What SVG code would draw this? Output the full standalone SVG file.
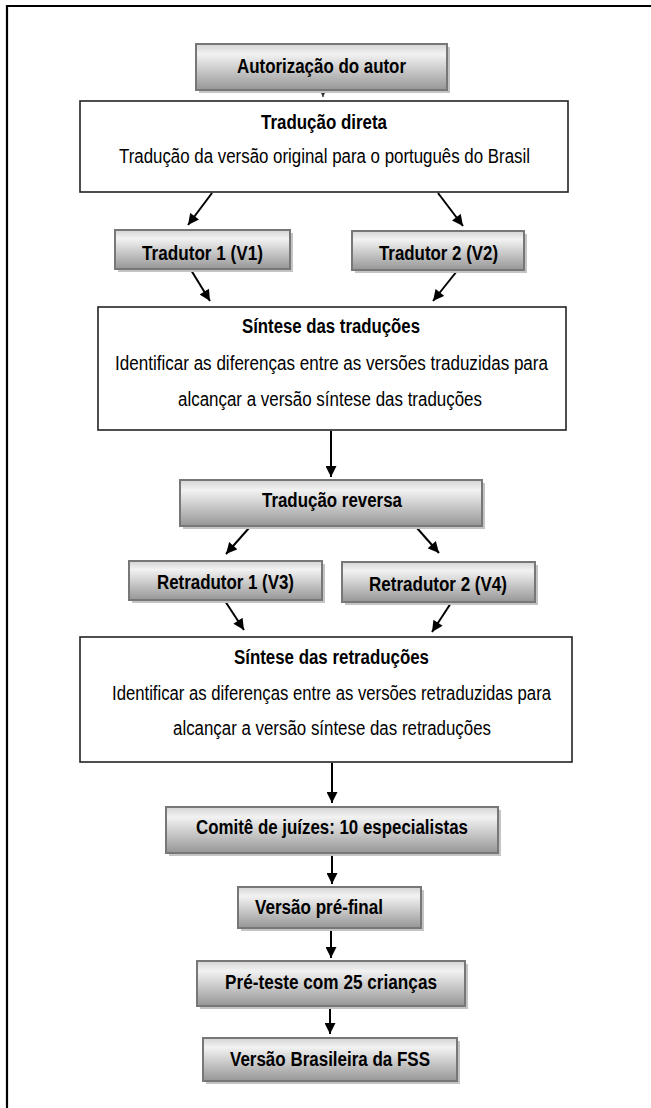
<svg xmlns="http://www.w3.org/2000/svg" width="651" height="1108" viewBox="0 0 651 1108">
<style>
.frame{stroke:#000;stroke-width:2.2;fill:none}
.gbox{fill:url(#shade);stroke:#777;stroke-width:2}
.shadow{fill:#c4c4c4}
.wbox{fill:#fff;stroke:#222;stroke-width:1.6}
.b{font-family:"Liberation Sans Narrow","Arial Narrow","Liberation Sans",sans-serif;font-weight:bold;font-size:20px;fill:#000;text-anchor:middle}
.r{font-family:"Liberation Sans Narrow","Arial Narrow","Liberation Sans",sans-serif;font-size:20px;fill:#000;text-anchor:middle}
.conn{stroke:#000;stroke-width:2;fill:none;marker-end:url(#ah)}
</style>
<defs>
<linearGradient id="shade" x1="0" y1="0" x2="0" y2="1">
<stop offset="0" stop-color="#d4d4d4"/>
<stop offset="0.22" stop-color="#f2f2f2"/>
<stop offset="1" stop-color="#969696"/>
</linearGradient>
<marker id="ah" viewBox="0 0 10 10" refX="10" refY="5" markerWidth="12" markerHeight="11" orient="auto" markerUnits="userSpaceOnUse">
<path d="M0,0 L10,5 L0,10 z" fill="#000"/>
</marker>
<marker id="sm" viewBox="0 0 10 10" refX="10" refY="5" markerWidth="6" markerHeight="6" orient="auto" markerUnits="userSpaceOnUse">
<path d="M0,0 L10,5 L0,10 z" fill="#333"/>
</marker>
</defs>
<rect width="651" height="1108" fill="#fff"/>
<path class="frame" d="M7,1108 V6 H651"/>

<g id="connectors">
<line x1="323" y1="90" x2="323" y2="97" stroke="#333" stroke-width="1.2" marker-end="url(#sm)"/>
<line class="conn" x1="212" y1="193" x2="188" y2="225"/>
<line class="conn" x1="438" y1="193" x2="463" y2="226"/>
<line class="conn" x1="191" y1="270" x2="210" y2="301"/>
<line class="conn" x1="457" y1="271" x2="433" y2="301"/>
<line class="conn" x1="331" y1="431" x2="331" y2="477"/>
<line class="conn" x1="249" y1="528" x2="226" y2="554"/>
<line class="conn" x1="417" y1="528" x2="439" y2="553"/>
<line class="conn" x1="225" y1="601" x2="244" y2="630"/>
<line class="conn" x1="451" y1="603" x2="432" y2="632"/>
<line class="conn" x1="332" y1="763" x2="332" y2="803"/>
<line class="conn" x1="332" y1="854" x2="332" y2="884"/>
<line class="conn" x1="331" y1="929" x2="331" y2="958"/>
<line class="conn" x1="330" y1="1007" x2="330" y2="1034"/>
</g>

<g id="n_autorizacao">
<rect class="shadow" x="199" y="47" width="251" height="46"/>
<rect class="gbox" x="196" y="44" width="251" height="46"/>
<text class="b" x="321.5" y="73" textLength="169" lengthAdjust="spacingAndGlyphs">Autorização do autor</text>
</g>

<g id="n_traducao_direta">
<rect class="wbox" x="80" y="101" width="488" height="91"/>
<text class="b" x="324" y="129" textLength="126" lengthAdjust="spacingAndGlyphs">Tradução direta</text>
<text class="r" x="324.5" y="163" textLength="411" lengthAdjust="spacingAndGlyphs">Tradução da versão original para o português do Brasil</text>
</g>

<g id="n_tradutor1">
<rect class="shadow" x="118" y="233" width="175" height="39"/>
<rect class="gbox" x="115" y="230" width="175" height="39"/>
<text class="b" x="202.5" y="260" textLength="121" lengthAdjust="spacingAndGlyphs">Tradutor 1 (V1)</text>
</g>

<g id="n_tradutor2">
<rect class="shadow" x="355" y="234" width="172" height="39"/>
<rect class="gbox" x="352" y="231" width="172" height="39"/>
<text class="b" x="438.5" y="260" textLength="119" lengthAdjust="spacingAndGlyphs">Tradutor 2 (V2)</text>
</g>

<g id="n_sintese_traducoes">
<rect class="wbox" x="98" y="307" width="468" height="123"/>
<text class="b" x="331" y="333" textLength="178" lengthAdjust="spacingAndGlyphs">Síntese das traduções</text>
<text class="r" x="331.5" y="370" textLength="433" lengthAdjust="spacingAndGlyphs">Identificar as diferenças entre as versões traduzidas para</text>
<text class="r" x="330" y="406" textLength="304" lengthAdjust="spacingAndGlyphs">alcançar a versão síntese das traduções</text>
</g>

<g id="n_traducao_reversa">
<rect class="shadow" x="183" y="483" width="302" height="46"/>
<rect class="gbox" x="180" y="480" width="302" height="46"/>
<text class="b" x="332" y="507" textLength="140" lengthAdjust="spacingAndGlyphs">Tradução reversa</text>
</g>

<g id="n_retradutor1">
<rect class="shadow" x="132" y="564" width="193" height="39"/>
<rect class="gbox" x="129" y="561" width="193" height="39"/>
<text class="b" x="225.5" y="589" textLength="137" lengthAdjust="spacingAndGlyphs">Retradutor 1 (V3)</text>
</g>

<g id="n_retradutor2">
<rect class="shadow" x="345" y="565" width="193" height="40"/>
<rect class="gbox" x="342" y="562" width="193" height="40"/>
<text class="b" x="438" y="591" textLength="138" lengthAdjust="spacingAndGlyphs">Retradutor 2 (V4)</text>
</g>

<g id="n_sintese_retraducoes">
<rect class="wbox" x="80" y="637" width="492" height="125"/>
<text class="b" x="331.5" y="664" textLength="195" lengthAdjust="spacingAndGlyphs">Síntese das retraduções</text>
<text class="r" x="331.5" y="700" textLength="439" lengthAdjust="spacingAndGlyphs">Identificar as diferenças entre as versões retraduzidas para</text>
<text class="r" x="332" y="735" textLength="318" lengthAdjust="spacingAndGlyphs">alcançar a versão síntese das retraduções</text>
</g>

<g id="n_comite">
<rect class="shadow" x="169" y="810" width="332" height="46"/>
<rect class="gbox" x="166" y="807" width="332" height="46"/>
<text class="b" x="332" y="834" textLength="272" lengthAdjust="spacingAndGlyphs">Comitê de juízes: 10 especialistas</text>
</g>

<g id="n_versao_prefinal">
<rect class="shadow" x="241" y="890" width="183" height="41"/>
<rect class="gbox" x="238" y="887" width="183" height="41"/>
<text class="b" x="319" y="914" textLength="128" lengthAdjust="spacingAndGlyphs">Versão pré-final</text>
</g>

<g id="n_preteste">
<rect class="shadow" x="200" y="964" width="268" height="45"/>
<rect class="gbox" x="197" y="961" width="268" height="45"/>
<text class="b" x="331" y="989" textLength="212" lengthAdjust="spacingAndGlyphs">Pré-teste com 25 crianças</text>
</g>

<g id="n_versao_brasileira">
<rect class="shadow" x="206" y="1041" width="254" height="43"/>
<rect class="gbox" x="203" y="1038" width="254" height="43"/>
<text class="b" x="330" y="1066" textLength="200" lengthAdjust="spacingAndGlyphs">Versão Brasileira da FSS</text>
</g>
</svg>
